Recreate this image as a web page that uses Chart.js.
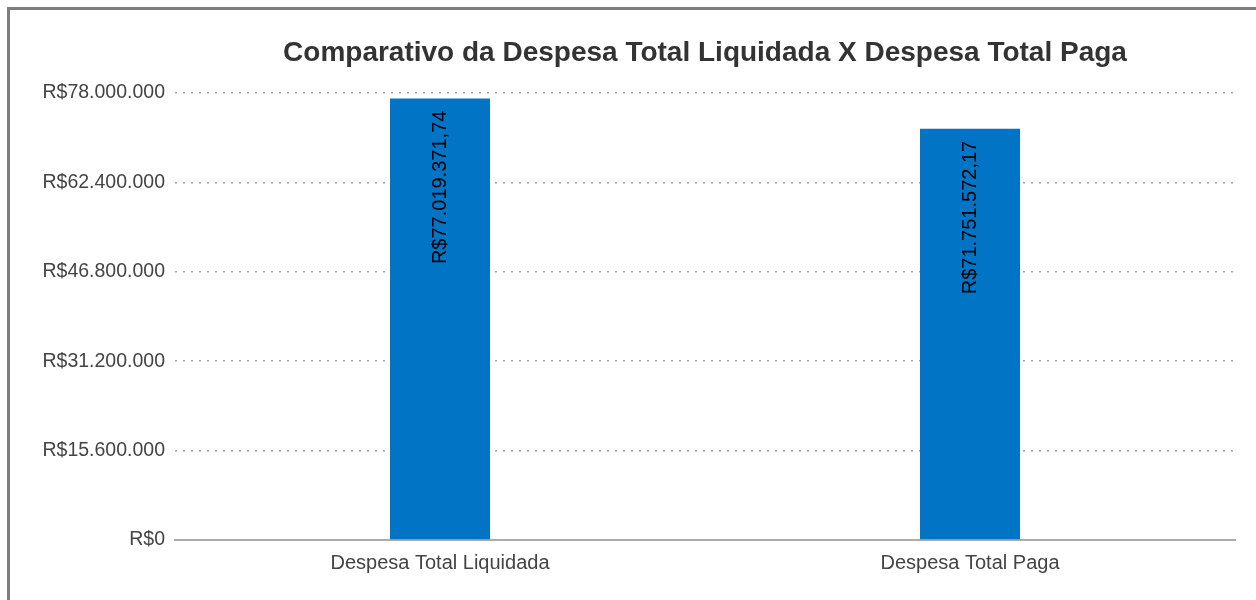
<!DOCTYPE html>
<html lang="pt-BR">
<head>
<meta charset="utf-8">
<title>Comparativo da Despesa Total Liquidada X Despesa Total Paga</title>
<script src="https://cdn.jsdelivr.net/npm/chart.js@4.4.1/dist/chart.umd.min.js"></script>
<style>
  html, body { margin: 0; padding: 0; background: #fff; overflow: hidden; }
  #frame {
    position: absolute; left: 7px; top: 7px;
    width: 1400px; height: 800px;
    border: 3px solid #7d7d7d; box-sizing: border-box;
  }
  #chart { position: absolute; left: 0; top: 0; }
</style>
</head>
<body>
<div id="frame"></div>
<canvas id="chart" width="1256" height="600"></canvas>
<script>
// Categories and values
const categories = ['Despesa Total Liquidada', 'Despesa Total Paga'];
const values = [77019371.74, 71751572.17];

// Value axis
const axisMax = 78000000;
const axisStep = 15600000;

const chartTitle = 'Comparativo da Despesa Total Liquidada X Despesa Total Paga';
const FONT = '"Liberation Sans", Arial, sans-serif';

// Brazilian currency formatting: R$1.234.567,89
function groupThousands(intStr) {
  return intStr.replace(/\B(?=(\d{3})+(?!\d))/g, '.');
}
function brl(v, decimals) {
  const fixed = Math.abs(v).toFixed(decimals);
  const [i, d] = fixed.split('.');
  return 'R$' + groupThousands(i) + (d ? ',' + d : '');
}

// Title centred over the plotting area
const titlePlugin = {
  id: 'plotTitle',
  afterDraw(chart) {
    const { ctx, chartArea } = chart;
    ctx.save();
    ctx.font = 'bold 28px ' + FONT;
    ctx.fillStyle = '#333333';
    ctx.textAlign = 'center';
    ctx.textBaseline = 'middle';
    ctx.fillText(chartTitle, (chartArea.left + chartArea.right) / 2, 53);
    ctx.restore();
  }
};

// Vertical value labels inside the top of each bar
const barLabels = {
  id: 'barLabels',
  afterDatasetsDraw(chart) {
    const { ctx } = chart;
    const meta = chart.getDatasetMeta(0);
    ctx.save();
    ctx.font = '20px ' + FONT;
    ctx.fillStyle = '#000000';
    ctx.textAlign = 'right';
    ctx.textBaseline = 'middle';
    meta.data.forEach((bar, i) => {
      ctx.save();
      ctx.translate(bar.x, bar.y + 12);
      ctx.rotate(-Math.PI / 2);
      ctx.fillText(brl(values[i], 2), 0, 0);
      ctx.restore();
    });
    ctx.restore();
  }
};

new Chart(document.getElementById('chart'), {
  type: 'bar',
  data: {
    labels: categories,
    datasets: [{
      data: values,
      backgroundColor: '#0274c5',
      borderWidth: 0,
      barPercentage: 1,
      categoryPercentage: 100 / 530
    }]
  },
  options: {
    responsive: false,
    animation: false,
    devicePixelRatio: 1,
    layout: { padding: { top: 93, right: 21, left: 0, bottom: 0 } },
    plugins: {
      legend: { display: false },
      title: { display: false },
      tooltip: { enabled: false }
    },
    scales: {
      x: {
        afterFit(scale) { scale.height = 60; },
        grid: { display: false, drawTicks: false },
        border: { display: true, color: '#ababab', width: 2 },
        ticks: {
          color: '#444444',
          font: { family: FONT, size: 20 },
          padding: 11
        }
      },
      y: {
        min: 0,
        max: axisMax,
        afterFit(scale) { scale.width = 175; },
        grid: { color: '#a4a4a4', lineWidth: 1.5, drawTicks: false },
        border: { display: false, dash: [2, 6] },
        ticks: {
          stepSize: axisStep,
          color: '#444444',
          font: { family: FONT, size: 19.5 },
          padding: 10,
          callback: (v) => brl(v, 0)
        }
      }
    }
  },
  plugins: [titlePlugin, barLabels]
});
</script>
</body>
</html>
